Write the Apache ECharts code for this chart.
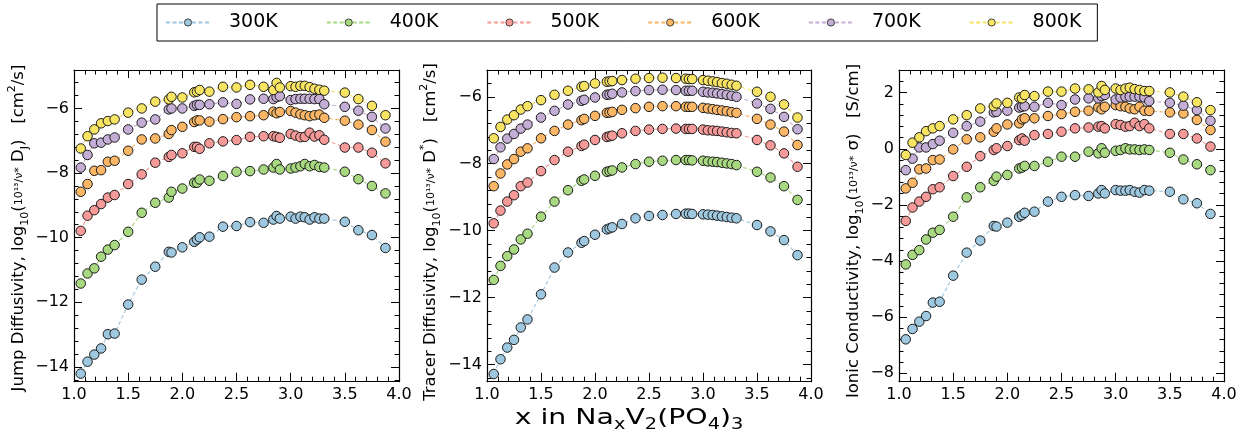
<!DOCTYPE html>
<html>
<head>
<meta charset="utf-8">
<script src="https://cdn.jsdelivr.net/npm/echarts@6/dist/echarts.min.js"></script>
<style>
html,body{margin:0;padding:0;background:#fff;}
#chart{width:1245px;height:435px;}
</style>
</head>
<body>
<div id="chart"></div>
<script>
// ---------------- data ----------------
const temps = ['300K', '400K', '500K', '600K', '700K', '800K'];
const colors = ['#9dc8e0', '#a8d880', '#f59a98', '#fbb766', '#c5aed5', '#f8e463'];

const xValues = [1.0625, 1.125, 1.1875, 1.25, 1.3125, 1.375, 1.5, 1.625, 1.75, 1.875, 1.9, 2.0, 2.11, 2.135, 2.16, 2.25, 2.375, 2.5, 2.625, 2.75, 2.84, 2.87, 2.9, 3.0, 3.045, 3.09, 3.13, 3.175, 3.22, 3.265, 3.31, 3.5, 3.625, 3.75, 3.875];

// Jump diffusivity
const jump300 = [-14.21, -13.84, -13.62, -13.43, -12.99, -12.97, -12.07, -11.30, -10.90, -10.44, -10.46, -10.30, -10.13, -10.06, -9.99, -9.97, -9.66, -9.64, -9.52, -9.54, -9.44, -9.33, -9.41, -9.35, -9.41, -9.35, -9.37, -9.44, -9.37, -9.41, -9.41, -9.51, -9.77, -9.92, -10.32];
const jump400 = [-11.42, -11.11, -10.95, -10.59, -10.37, -10.23, -9.82, -9.23, -8.92, -8.76, -8.58, -8.48, -8.30, -8.30, -8.20, -8.24, -8.09, -7.96, -7.94, -7.89, -7.83, -7.72, -7.89, -7.86, -7.83, -7.79, -7.72, -7.79, -7.75, -7.81, -7.83, -7.96, -8.19, -8.40, -8.63];
const jump500 = [-9.79, -9.32, -9.15, -8.96, -8.76, -8.68, -8.34, -8.04, -7.68, -7.50, -7.44, -7.39, -7.19, -7.19, -7.25, -7.08, -7.02, -6.98, -6.88, -6.86, -6.86, -6.88, -6.91, -6.79, -6.84, -6.89, -6.88, -6.75, -6.87, -6.83, -6.97, -7.21, -7.21, -7.37, -7.70];
const jump600 = [-8.58, -8.34, -7.93, -7.91, -7.65, -7.62, -7.31, -6.96, -6.93, -6.79, -6.67, -6.57, -6.42, -6.37, -6.37, -6.41, -6.33, -6.27, -6.24, -6.21, -6.10, -6.15, -6.11, -6.08, -6.13, -6.18, -6.21, -6.24, -6.21, -6.19, -6.29, -6.38, -6.50, -6.67, -7.03];
const jump700 = [-7.83, -7.44, -7.08, -7.06, -6.96, -6.90, -6.65, -6.44, -6.34, -6.03, -6.00, -6.00, -5.92, -5.89, -5.89, -5.87, -5.81, -5.86, -5.72, -5.70, -5.71, -5.65, -5.62, -5.74, -5.71, -5.70, -5.70, -5.70, -5.71, -5.71, -5.87, -5.95, -6.07, -6.26, -6.62];
const jump800 = [-7.24, -6.86, -6.65, -6.46, -6.39, -6.34, -6.13, -6.00, -5.79, -5.72, -5.64, -5.66, -5.50, -5.48, -5.43, -5.48, -5.33, -5.35, -5.27, -5.33, -5.43, -5.21, -5.35, -5.31, -5.33, -5.30, -5.30, -5.34, -5.39, -5.42, -5.45, -5.51, -5.71, -5.92, -6.21];

// Tracer diffusivity
const trac300 = [-14.28, -13.84, -13.49, -13.26, -12.89, -12.65, -11.90, -11.10, -10.65, -10.36, -10.31, -10.12, -9.96, -9.93, -9.90, -9.80, -9.63, -9.56, -9.53, -9.50, -9.49, -9.49, -9.50, -9.51, -9.52, -9.53, -9.55, -9.57, -9.59, -9.61, -9.63, -9.83, -10.02, -10.28, -10.73];
const trac400 = [-11.47, -11.05, -10.76, -10.56, -10.26, -10.09, -9.58, -9.13, -8.79, -8.51, -8.47, -8.36, -8.24, -8.22, -8.20, -8.11, -8.01, -7.94, -7.91, -7.89, -7.89, -7.89, -7.90, -7.91, -7.93, -7.94, -7.95, -7.97, -7.99, -8.01, -8.04, -8.24, -8.41, -8.67, -9.08];
const trac500 = [-9.78, -9.40, -9.13, -8.94, -8.67, -8.56, -8.22, -7.89, -7.64, -7.47, -7.43, -7.29, -7.20, -7.18, -7.16, -7.09, -7.02, -6.98, -6.96, -6.95, -6.96, -6.96, -6.96, -6.98, -7.00, -7.01, -7.02, -7.04, -7.06, -7.08, -7.09, -7.29, -7.45, -7.69, -8.09];
const trac600 = [-8.67, -8.29, -8.02, -7.86, -7.64, -7.54, -7.24, -7.02, -6.83, -6.70, -6.66, -6.57, -6.48, -6.47, -6.45, -6.39, -6.34, -6.30, -6.28, -6.28, -6.30, -6.30, -6.30, -6.33, -6.35, -6.37, -6.39, -6.41, -6.43, -6.46, -6.48, -6.66, -6.83, -7.04, -7.44];
const trac700 = [-7.86, -7.51, -7.25, -7.11, -6.95, -6.83, -6.62, -6.42, -6.23, -6.12, -6.09, -6.02, -5.94, -5.93, -5.91, -5.87, -5.83, -5.80, -5.79, -5.80, -5.82, -5.82, -5.82, -5.85, -5.87, -5.88, -5.90, -5.92, -5.94, -5.97, -6.00, -6.20, -6.36, -6.60, -6.97];
const trac800 = [-7.24, -6.90, -6.68, -6.55, -6.38, -6.28, -6.10, -5.94, -5.82, -5.70, -5.68, -5.60, -5.55, -5.54, -5.53, -5.50, -5.46, -5.44, -5.43, -5.44, -5.46, -5.47, -5.47, -5.50, -5.52, -5.54, -5.56, -5.59, -5.61, -5.64, -5.67, -5.85, -6.00, -6.23, -6.62];

// Ionic conductivity
const ion300 = [-6.79, -6.42, -6.16, -5.96, -5.48, -5.45, -4.52, -3.70, -3.27, -2.75, -2.77, -2.63, -2.42, -2.36, -2.28, -2.24, -1.88, -1.71, -1.65, -1.68, -1.59, -1.47, -1.59, -1.47, -1.49, -1.49, -1.47, -1.53, -1.56, -1.47, -1.49, -1.53, -1.80, -1.94, -2.32];
const ion400 = [-4.12, -3.78, -3.61, -3.23, -2.99, -2.89, -2.42, -1.73, -1.37, -1.14, -0.99, -0.93, -0.70, -0.67, -0.61, -0.61, -0.46, -0.28, -0.28, -0.10, -0.16, 0.02, -0.14, -0.07, -0.04, 0.02, -0.02, -0.02, -0.04, -0.02, -0.04, -0.14, -0.38, -0.55, -0.76];
const ion500 = [-2.57, -2.09, -1.88, -1.71, -1.44, -1.37, -0.97, -0.64, -0.26, -0.04, 0.02, 0.10, 0.31, 0.37, 0.29, 0.49, 0.53, 0.61, 0.73, 0.76, 0.79, 0.81, 0.73, 0.88, 0.85, 0.79, 0.81, 0.93, 0.81, 0.88, 0.73, 0.53, 0.53, 0.37, 0.08];
const ion600 = [-1.41, -1.21, -0.73, -0.70, -0.40, -0.38, -0.02, 0.34, 0.41, 0.61, 0.73, 0.87, 0.91, 1.05, 1.09, 1.09, 1.17, 1.24, 1.32, 1.36, 1.48, 1.41, 1.50, 1.56, 1.52, 1.50, 1.44, 1.41, 1.50, 1.36, 1.35, 1.30, 1.26, 1.03, 0.67];
const ion700 = [-0.76, -0.35, 0.05, 0.05, 0.17, 0.29, 0.57, 0.81, 0.97, 1.30, 1.32, 1.36, 1.47, 1.50, 1.52, 1.50, 1.64, 1.56, 1.76, 1.80, 1.80, 1.88, 1.92, 1.76, 1.83, 1.86, 1.86, 1.86, 1.86, 1.83, 1.70, 1.64, 1.54, 1.38, 1.00];
const ion800 = [-0.22, 0.22, 0.41, 0.63, 0.73, 0.81, 1.05, 1.20, 1.44, 1.52, 1.62, 1.64, 1.83, 1.80, 1.92, 1.88, 2.04, 2.04, 2.15, 2.12, 2.01, 2.24, 2.10, 2.15, 2.10, 2.15, 2.18, 2.13, 2.10, 2.06, 2.06, 2.01, 1.86, 1.66, 1.38];

// tick labels
const yTicksJump = [-14, -12, -10, -8, -6];
const yTicksTracer = [-14, -12, -10, -8, -6];
const yTicksIonic = [-8, -6, -4, -2, 0, 2];
const xTickLabels = [1.0, 1.5, 2.0, 2.5, 3.0, 3.5, 4.0];

// ---------------- layout ----------------
const FONT = 'DejaVu Sans';
const panels = [
  { left: 74,  width: 325, ymin: -14.46, ymax: -4.81, ticks: yTicksJump,   series: [jump300, jump400, jump500, jump600, jump700, jump800] },
  { left: 487, width: 324, ymin: -14.51, ymax: -5.20, ticks: yTicksTracer, series: [trac300, trac400, trac500, trac600, trac700, trac800] },
  { left: 899, width: 325, ymin: -8.30,  ymax: 2.81,  ticks: yTicksIonic,  series: [ion300, ion400, ion500, ion600, ion700, ion800] }
];
const TOP = 70, HEIGHT = 311.7;

function minorTicks(ymin, ymax, majors) {
  const out = [];
  for (let k = Math.ceil(ymin / 0.4); k * 0.4 <= ymax; k++) {
    const v = Math.round(k * 4) / 10;
    if (majors.indexOf(v) < 0 && v % 2 !== 0) out.push(v);
  }
  return out;
}
const fmtNum = v => (v < 0 ? '\u2212' : '') + Math.abs(v);

const grids = [], xAxes = [], yAxes = [], series = [];
panels.forEach((p, g) => {
  grids.push({ left: p.left, top: TOP, width: p.width, height: HEIGHT });
  const tickLine = { color: '#000', width: 1 };
  const axisLine = { show: true, onZero: false, lineStyle: { color: '#000', width: 1.2 } };
  xAxes.push({
    type: 'value', gridIndex: g, position: 'bottom', min: 1, max: 4, interval: 0.5,
    axisLine: axisLine, splitLine: { show: false },
    axisTick: { show: true, inside: true, length: 9, lineStyle: tickLine },
    minorTick: { show: true, splitNumber: 5, length: 5, lineStyle: tickLine },
    axisLabel: { show: true, margin: 5, fontSize: 16, fontFamily: FONT, color: '#000',
      customValues: xTickLabels, formatter: v => v.toFixed(1) }
  });
  xAxes.push({
    type: 'value', gridIndex: g, position: 'top', min: 1, max: 4, interval: 0.5,
    axisLine: axisLine, splitLine: { show: false },
    axisTick: { show: true, inside: true, length: 8, lineStyle: tickLine },
    minorTick: { show: true, splitNumber: 5, length: 4.5, lineStyle: tickLine },
    axisLabel: { show: false }
  });
  const minors = minorTicks(p.ymin, p.ymax, p.ticks);
  ['left', 'right'].forEach(pos => {
    yAxes.push({
      type: 'value', gridIndex: g, position: pos, min: p.ymin, max: p.ymax,
      axisLine: axisLine, splitLine: { show: false },
      axisTick: { show: true, inside: true, length: 8, lineStyle: tickLine, customValues: p.ticks },
      axisLabel: { show: pos === 'left', margin: 5, fontSize: 16, fontFamily: FONT, color: '#000',
        customValues: p.ticks, formatter: fmtNum }
    });
    yAxes.push({
      type: 'value', gridIndex: g, position: pos, min: p.ymin, max: p.ymax,
      axisLine: { show: false }, splitLine: { show: false },
      axisTick: { show: true, inside: true, length: 4.5, lineStyle: tickLine, customValues: minors },
      axisLabel: { show: false }
    });
  });
  p.series.forEach((arr, t) => {
    series.push({
      type: 'line', name: temps[t], xAxisIndex: 2 * g, yAxisIndex: 4 * g,
      data: xValues.map((x, i) => [x, arr[i]]),
      symbol: 'circle', symbolSize: 9.5, showAllSymbol: true,
      itemStyle: { color: colors[t], borderColor: '#1a1a1a', borderWidth: 1 },
      lineStyle: { color: colors[t], width: 1.1, type: [4, 2.5] },
      emphasis: { disabled: true }, silent: true
    });
  });
});

const richName = {
  n: { fontSize: 16.5, fontFamily: FONT, color: '#000', lineHeight: 24 },
  sub: { fontSize: 11, fontFamily: FONT, color: '#000', lineHeight: 11, verticalAlign: 'bottom' },
  sup: { fontSize: 11, fontFamily: FONT, color: '#000', lineHeight: 11, verticalAlign: 'top' },
  fr: { fontSize: 11, fontFamily: FONT, color: '#000', lineHeight: 24 }
};
function yName(x, y, text) {
  return { type: 'text', x: x, y: y, rotation: Math.PI / 2, silent: true,
    style: { text: text, rich: richName, align: 'center', verticalAlign: 'middle', fill: '#000' } };
}

const option = {
  animation: false,
  backgroundColor: '#fff',
  legend: {
    left: 157, top: 4, orient: 'horizontal',
    itemWidth: 44, itemHeight: 9, itemGap: 48,
    padding: [9, 16, 9, 8],
    borderColor: '#000', borderWidth: 1, borderRadius: 0,
    itemStyle: { borderWidth: 0.8 },
    textStyle: { fontSize: 19, fontFamily: FONT, color: '#000', padding: [0, 0, 0, 14] },
    data: temps, selectedMode: false
  },
  grid: grids,
  xAxis: xAxes,
  yAxis: yAxes,
  series: series,
  graphic: [
    yName(19, 228, '{n|Jump Diffusivity, log}{sub|10}{n|(}{fr|10¹³/ν*}{n| D}{sub|J}{n|)   [cm}{sup|2}{n|/s]}'),
    yName(431, 232, '{n|Tracer Diffusivity, log}{sub|10}{n|(}{fr|10¹³/ν*}{n| D}{sup|*}{n|)   [cm}{sup|2}{n|/s]}'),
    yName(854, 231, '{n|Ionic Conductivity, log}{sub|10}{n|(}{fr|10¹³/ν*}{n| σ)   [S/cm]}'),
    { type: 'text', x: 629, y: 418, scaleX: 1.29, silent: true,
      style: { text: '{m|x in Na}{s|x}{m|V}{s|2}{m|(PO}{s|4}{m|)}{s|3}', align: 'center', verticalAlign: 'middle',
        rich: {
          m: { fontSize: 22, fontFamily: FONT, color: '#000', lineHeight: 30 },
          s: { fontSize: 15, fontFamily: FONT, color: '#000', lineHeight: 15, verticalAlign: 'bottom' }
        } } }
  ]
};

const chart = echarts.init(document.getElementById('chart'), null, { renderer: 'canvas' });
chart.setOption(option);
</script>
</body>
</html>
